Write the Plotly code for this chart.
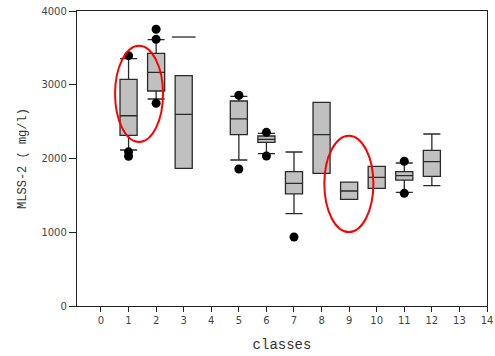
import plotly.graph_objects as go

classes = [1, 2, 3, 5, 6, 7, 8, 9, 10, 11, 12]
q1 = [2314, 2915, 1867, 2323, 2220, 1519, 1799, 1447, 1595, 1708, 1758]
median = [2580, 3168, 2599, 2536, 2260, 1664, 2323, 1559, 1745, 1767, 1957]
q3 = [3074, 3426, 3123, 2780, 2305, 1821, 2762, 1681, 1894, 1821, 2111]
lowerfence = [2115, 2807, 1867, 1980, 2065, 1252, 1799, 1447, 1595, 1541, 1631]
upperfence = [3353, 3611, 3123, 2843, 2342, 2088, 2762, 1681, 1894, 1939, 2332]

outlier_x = [1, 1, 1, 2, 2, 2, 5, 5, 6, 6, 7, 11, 11]
outlier_y = [3394, 2090, 2030, 3752, 3616, 2749, 2857, 1858, 2355, 2034, 936, 1962, 1528]

dash_x = [3]
dash_y = [3647]

tick_vals = list(range(0, 15))
tick_text = [str(v) for v in tick_vals]

# highlighted regions (red ellipses), in data coordinates
ellipse_1 = dict(x0=0.51, x1=2.25, y0=2224, y1=3529)
ellipse_2 = dict(x0=8.1, x1=9.88, y0=1003, y1=2309)

fig = go.Figure()
fig.add_trace(go.Box(
    x=classes, q1=q1, median=median, q3=q3,
    lowerfence=lowerfence, upperfence=upperfence,
    width=0.62, whiskerwidth=1,
    fillcolor="#c0c0c0",
    line=dict(color="#2a2a2a", width=1.3),
    boxpoints=False, showlegend=False, hoverinfo="skip",
))
fig.add_trace(go.Scatter(
    x=outlier_x, y=outlier_y, mode="markers",
    marker=dict(color="black", size=9),
    showlegend=False,
))
fig.add_trace(go.Scatter(
    x=dash_x, y=dash_y, mode="markers",
    marker=dict(symbol="line-ew", size=17, line=dict(color="#2a2a2a", width=1.3)),
    showlegend=False,
))

for e in (ellipse_1, ellipse_2):
    fig.add_shape(type="circle", xref="x", yref="y", line=dict(color="#ff0000", width=2), **e)

fig.update_layout(
    width=495, height=356,
    margin=dict(l=77, r=8, t=11, b=50),
    paper_bgcolor="white", plot_bgcolor="white",
    font=dict(family="DejaVu Sans", size=10, color="#444"),
)
fig.update_xaxes(
    range=[-0.87, 14], tickvals=tick_vals, ticktext=tick_text,
    automargin=False,
    showgrid=False, zeroline=False,
    showline=True, linecolor="#222", linewidth=1.3, mirror=True,
    ticks="outside", ticklen=5, tickcolor="#222",
    tickfont=dict(family="DejaVu Sans", size=10, color="#444"),
    title=dict(text="classes", font=dict(family="Liberation Mono", size=14, color="#333"), standoff=14),
)
fig.update_yaxes(
    range=[0, 4000], dtick=1000,
    automargin=False,
    showgrid=False, zeroline=False,
    showline=True, linecolor="#222", linewidth=1.3, mirror=True,
    ticks="outside", ticklen=7, tickcolor="#222",
    tickfont=dict(family="DejaVu Sans", size=10, color="#444"),
    title=dict(text="MLSS-2 ( mg/l)", font=dict(family="Liberation Mono", size=12, color="#333"), standoff=12),
)

fig.write_html("out.html", config={"displayModeBar": False},
               post_script="document.body.style.margin='0';")
